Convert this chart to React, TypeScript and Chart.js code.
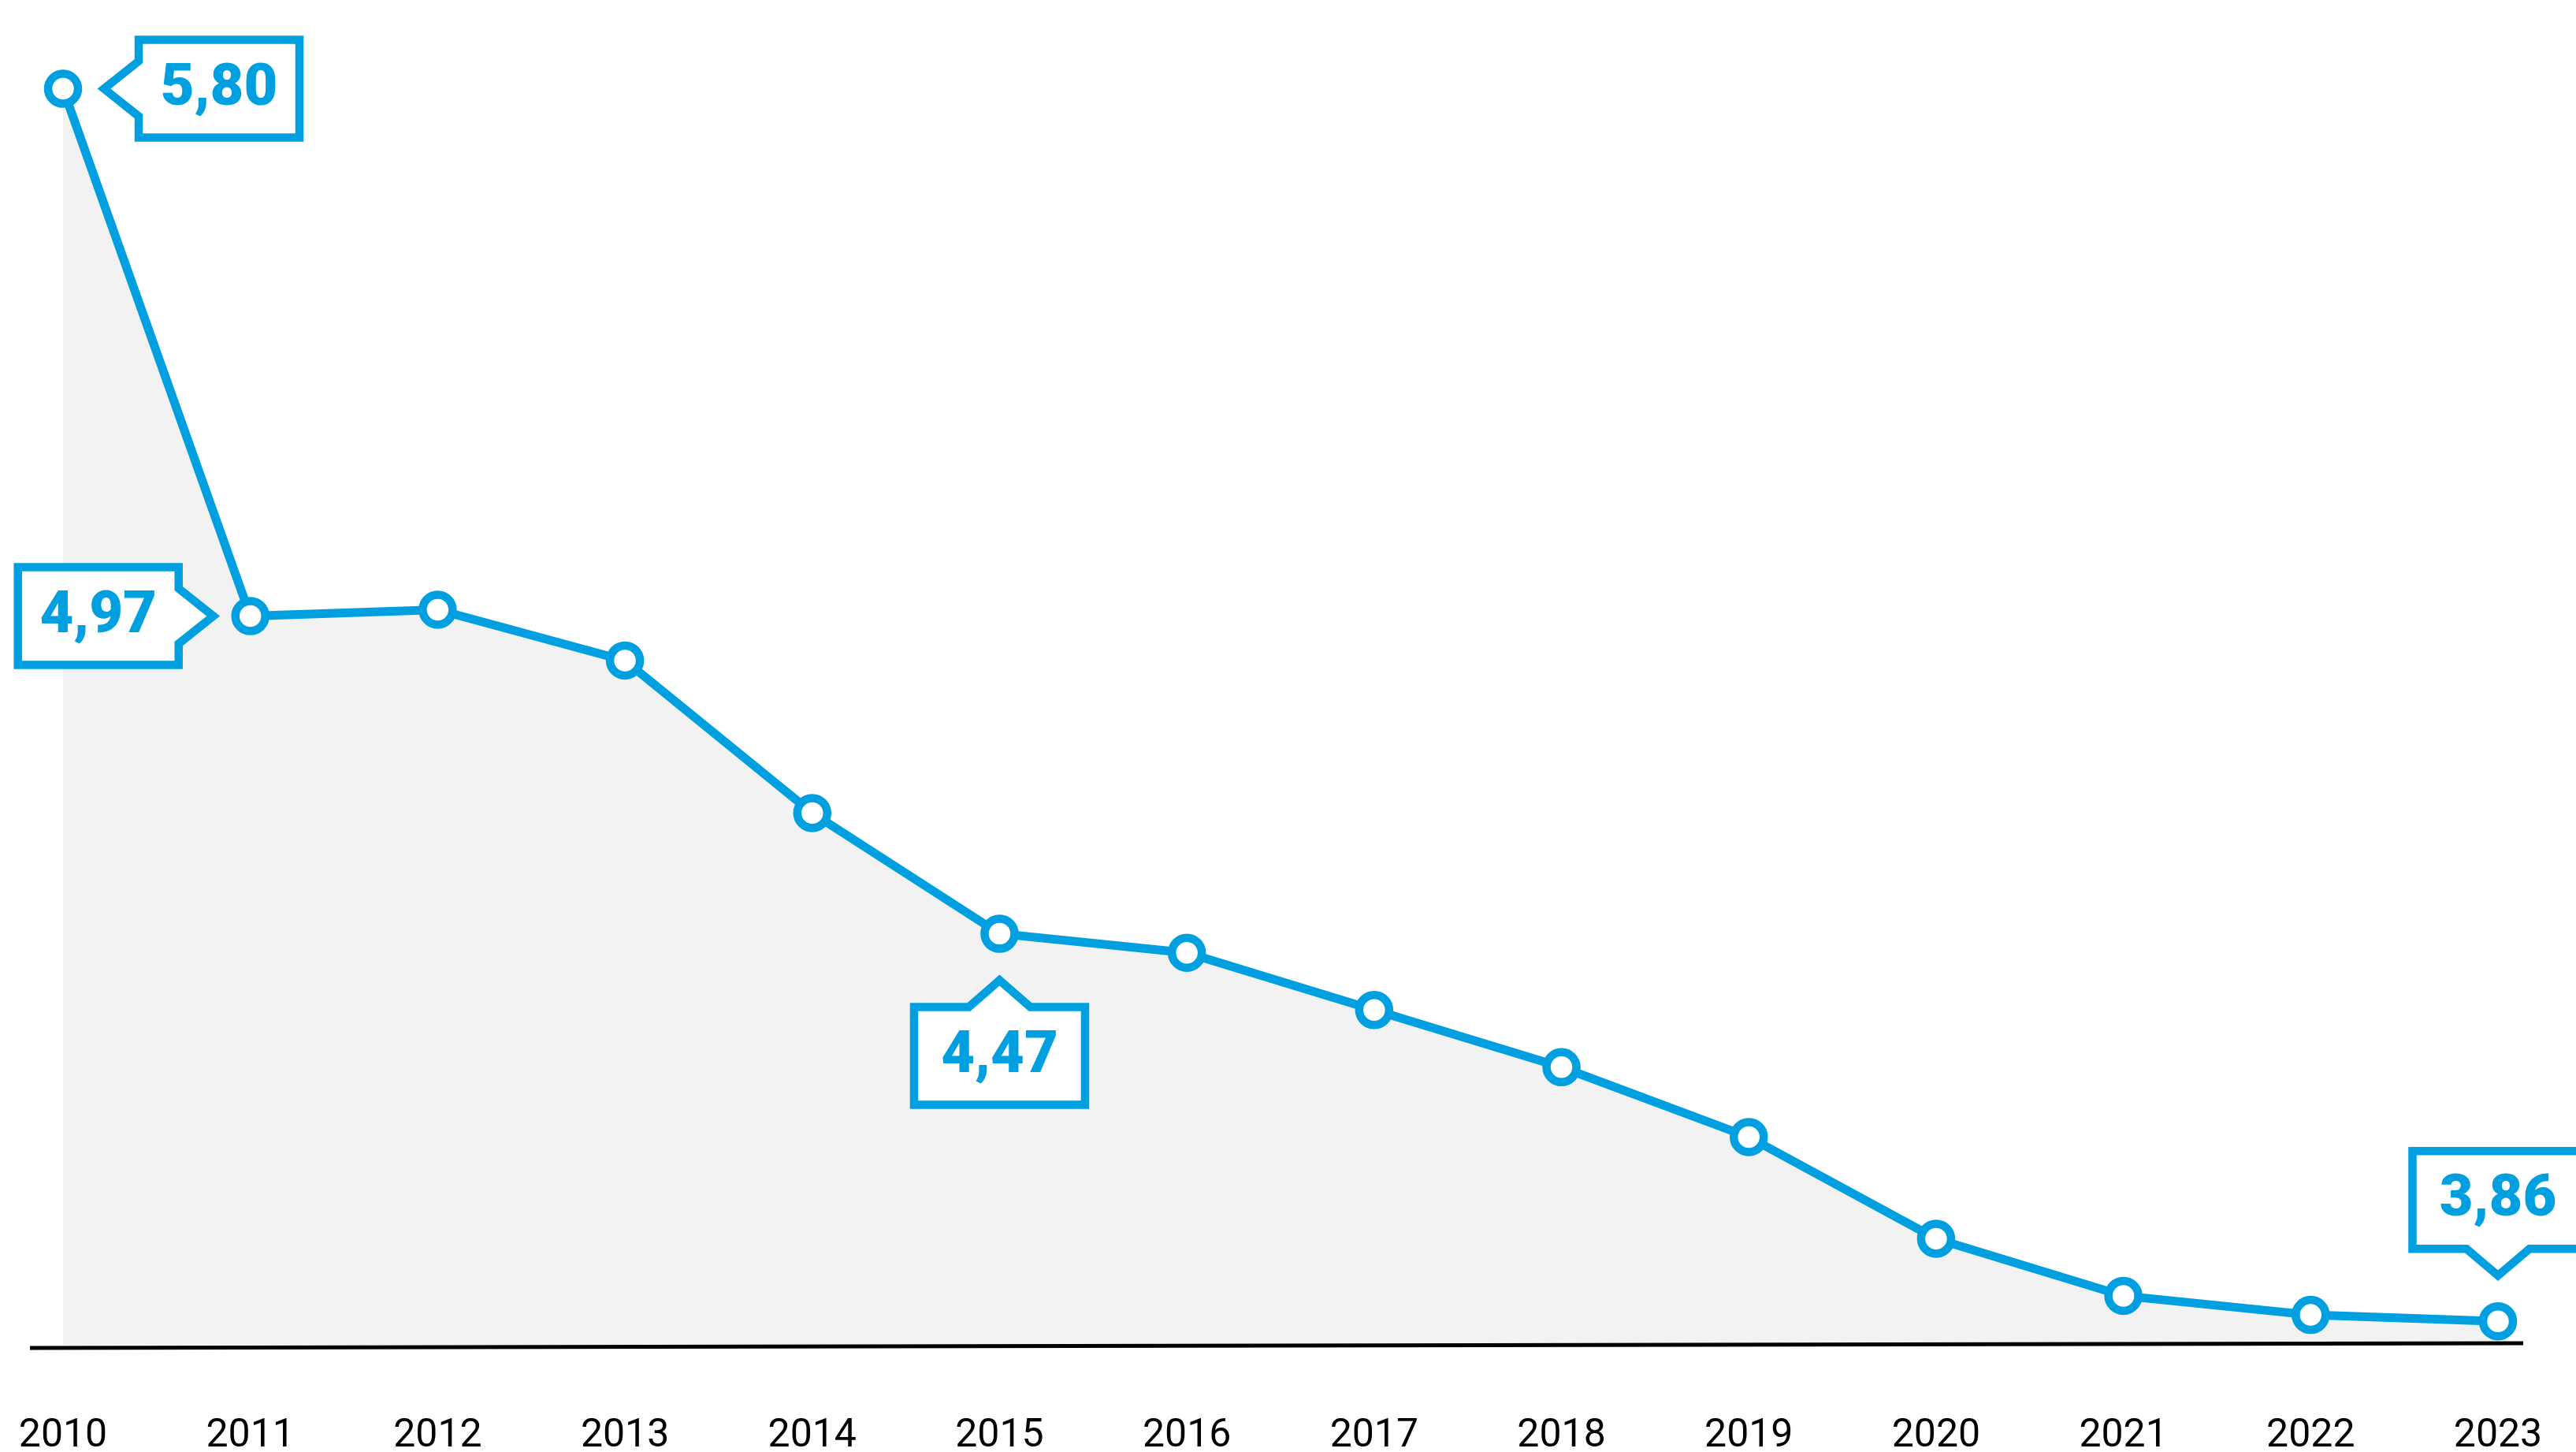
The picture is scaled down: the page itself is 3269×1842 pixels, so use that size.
import React, { useEffect, useRef } from 'react';
import { Chart, registerables } from 'chart.js';

Chart.register(...registerables);

// ---- data ----
const years = ['2010', '2011', '2012', '2013', '2014', '2015', '2016', '2017', '2018', '2019', '2020', '2021', '2022', '2023'];
const values = [5.80, 4.97, 4.98, 4.90, 4.66, 4.47, 4.44, 4.35, 4.26, 4.15, 3.99, 3.90, 3.87, 3.86];
const calloutYears = ['2010', '2011', '2015', '2023'];
const calloutSides = ['right', 'left', 'below', 'above'];

const BLUE = '#009fe0';
const FILL = '#f2f2f2';

const fmt = (v: number) => v.toFixed(2).replace('.', ',');

const calloutPlugin = {
  id: 'callouts',
  afterDatasetsDraw(chart: any) {
    const ctx = chart.ctx;
    const meta = chart.getDatasetMeta(0);
    ctx.save();
    calloutYears.forEach((yr, k) => {
      const i = years.indexOf(yr);
      const pt = meta.data[i];
      if (!pt) return;
      const px = pt.x;
      const py = pt.y;
      const side = calloutSides[k];
      const H = 124;
      let path: number[][] = [];
      let cx = px;
      let cy = py;
      if (side === 'right') {
        const W = 204;
        const tipX = px + 52;
        const l = tipX + 44;
        const r = l + W;
        const t = py - H / 2;
        const b = py + H / 2;
        path = [[l, t], [r, t], [r, b], [l, b], [l, py + 35], [tipX, py], [l, py - 35]];
        cx = (l + r) / 2;
        cy = py;
      } else if (side === 'left') {
        const W = 204;
        const tipX = px - 47;
        const r = tipX - 44;
        const l = r - W;
        const t = py - H / 2;
        const b = py + H / 2;
        path = [[l, t], [r, t], [r, py - 35], [tipX, py], [r, py + 35], [r, b], [l, b]];
        cx = (l + r) / 2;
        cy = py;
      } else if (side === 'below') {
        const W = 217;
        const tipY = py + 59;
        const t = tipY + 34;
        const b = t + H;
        const l = px - W / 2;
        const r = px + W / 2;
        path = [[l, t], [px - 39, t], [px, tipY], [px + 39, t], [r, t], [r, b], [l, b]];
        cx = px;
        cy = (t + b) / 2;
      } else {
        const W = 217;
        const tipY = py - 58;
        const b = tipY - 34;
        const t = b - H;
        const l = px - W / 2;
        const r = px + W / 2;
        path = [[l, t], [r, t], [r, b], [px + 40, b], [px, tipY], [px - 40, b], [l, b]];
        cx = px;
        cy = (t + b) / 2;
      }
      ctx.beginPath();
      path.forEach((p, j) => (j === 0 ? ctx.moveTo(p[0], p[1]) : ctx.lineTo(p[0], p[1])));
      ctx.closePath();
      ctx.fillStyle = '#ffffff';
      ctx.fill();
      ctx.lineWidth = 10.5;
      ctx.lineJoin = 'miter';
      ctx.strokeStyle = BLUE;
      ctx.stroke();
      ctx.fillStyle = BLUE;
      ctx.font = '900 74px Roboto';
      ctx.textAlign = 'center';
      ctx.textBaseline = 'alphabetic';
      ctx.fillText(fmt(values[i]), cx, cy + 20);
    });
    ctx.restore();
  },
};

const baselinePlugin = {
  id: 'baseline',
  afterDatasetsDraw(chart: any) {
    const { ctx, chartArea } = chart;
    ctx.save();
    ctx.strokeStyle = '#000000';
    ctx.lineWidth = 5;
    ctx.beginPath();
    ctx.moveTo(chartArea.left - 42, chartArea.bottom + 4);
    ctx.lineTo(chartArea.right + 32, chartArea.bottom - 2);
    ctx.stroke();
    ctx.restore();
  },
};

export default function App() {
  const ref = useRef<HTMLCanvasElement | null>(null);
  useEffect(() => {
    if (!ref.current) return;
    Chart.defaults.font.family = 'Roboto';
    const chart = new Chart(ref.current, {
      type: 'line',
      data: {
        labels: years,
        datasets: [
          {
            data: values,
            borderColor: BLUE,
            borderWidth: 11,
            backgroundColor: FILL,
            fill: 'start',
            tension: 0,
            pointRadius: 19,
            pointHoverRadius: 19,
            pointBorderWidth: 10.5,
            pointBackgroundColor: '#ffffff',
            pointBorderColor: BLUE,
            clip: false as any,
          },
        ],
      },
      options: {
        animation: false,
        responsive: false,
        layout: { padding: { left: 80, right: 99, top: 40, bottom: 0 } },
        plugins: {
          legend: { display: false },
          tooltip: { enabled: false },
        },
        scales: {
          x: {
            grid: { display: false, drawTicks: false },
            border: { display: false },
            ticks: {
              color: '#000000',
              font: { family: 'Roboto', size: 50, lineHeight: 1.1 },
              padding: 89,
              maxRotation: 0,
              autoSkip: false,
            },
            afterFit: (scale: any) => {
              scale.height = 136;
              scale.paddingLeft = 0;
              scale.paddingRight = 0;
            },
          },
          y: {
            display: false,
            min: 3.823,
            max: 5.89,
          },
        },
      },
      plugins: [baselinePlugin, calloutPlugin],
    });
    return () => chart.destroy();
  }, []);
  return (
    <div style={{ position: 'absolute', left: 0, top: 0, width: 3269, height: 1842, background: '#ffffff' }}>
      <canvas ref={ref} width={3269} height={1842} style={{ display: 'block' }} />
    </div>
  );
}
